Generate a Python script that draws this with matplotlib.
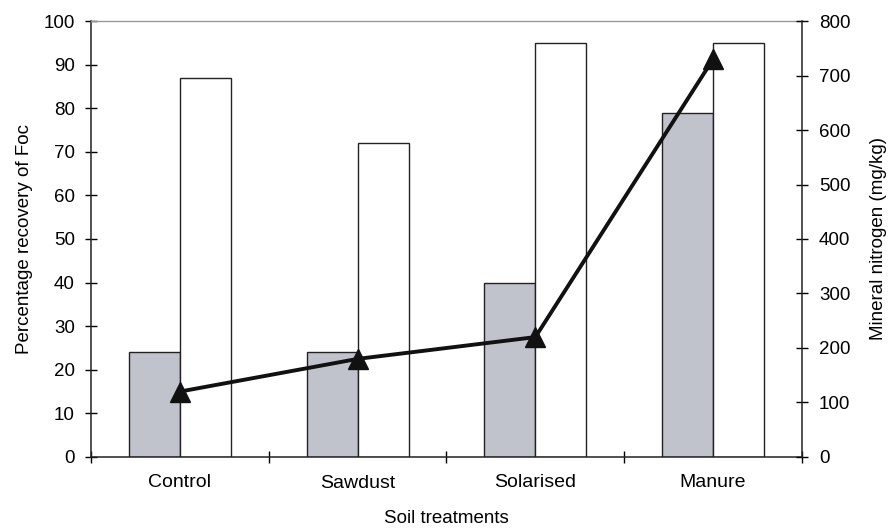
import numpy as np
import matplotlib
matplotlib.use("Agg")
import matplotlib.pyplot as plt

plt.rcParams['font.family'] = ['Liberation Sans', 'DejaVu Sans']

# Data
treatments = ["Control", "Sawdust", "Solarised", "Manure"]
foc_grey = [24, 24, 40, 79]        # grey bars, left axis (%)
foc_white = [87, 72, 95, 95]       # white bars, left axis (%)
mineral_n = [120, 180, 220, 730]   # line, right axis (mg/kg)

x = np.arange(len(treatments))
w = 0.287
fs = 13.5

fig = plt.figure(figsize=(8.91, 5.28), dpi=100)
ax = fig.add_axes([0.1021, 0.1345, 0.7980, 0.8257])

ax.bar(x - w / 2, foc_grey, width=w, color="#c0c3cb", edgecolor="#222222", linewidth=1.0)
ax.bar(x + w / 2, foc_white, width=w, color="white", edgecolor="#222222", linewidth=1.0)

ax.set_xlim(-0.5, 3.5)
ax.set_ylim(0, 100)
ax.set_yticks(range(0, 101, 10))
ax.set_xticks([-0.5, 0.5, 1.5, 2.5, 3.5])
ax.set_xticklabels([])
ax.set_xticks(x, minor=True)
ax.set_xticklabels(treatments, minor=True)
ax.tick_params(axis="x", which="minor", length=0, pad=12, labelsize=14)
ax.tick_params(axis="x", which="major", direction="inout", length=8.6, width=1)
ax.tick_params(axis="y", direction="inout", length=8.6, width=1, pad=7.2, labelsize=fs)

# Sawdust label sits a little lower in the original
ax.get_xticklabels(minor=True)[1].set_va("top")
ax.get_xticklabels(minor=True)[1].set_y(-0.004)

ax.set_ylabel("Percentage recovery of Foc", fontsize=fs, labelpad=8)
ax.set_xlabel("Soil treatments", fontsize=fs, labelpad=13)

for s in ["left", "bottom"]:
    ax.spines[s].set_color("#222222")
    ax.spines[s].set_linewidth(1.1)
ax.spines["top"].set_color("#999999")
ax.spines["top"].set_linewidth(1.0)
ax.spines["right"].set_visible(False)

ax2 = ax.twinx()
ax2.plot(x, mineral_n, color="#111111", linewidth=2.8, marker="^", markersize=14)
ax2.set_ylim(0, 800)
ax2.set_yticks(range(0, 801, 100))
ax2.tick_params(axis="y", direction="inout", length=8.6, width=1, pad=7.9, labelsize=fs)
ax2.set_ylabel("Mineral nitrogen (mg/kg)", fontsize=fs, labelpad=14)
ax2.spines["right"].set_color("#222222")
ax2.spines["right"].set_linewidth(1.1)
ax2.spines["top"].set_visible(False)
ax2.spines["left"].set_visible(False)
ax2.spines["bottom"].set_visible(False)

fig.savefig("out.png", dpi=100)
